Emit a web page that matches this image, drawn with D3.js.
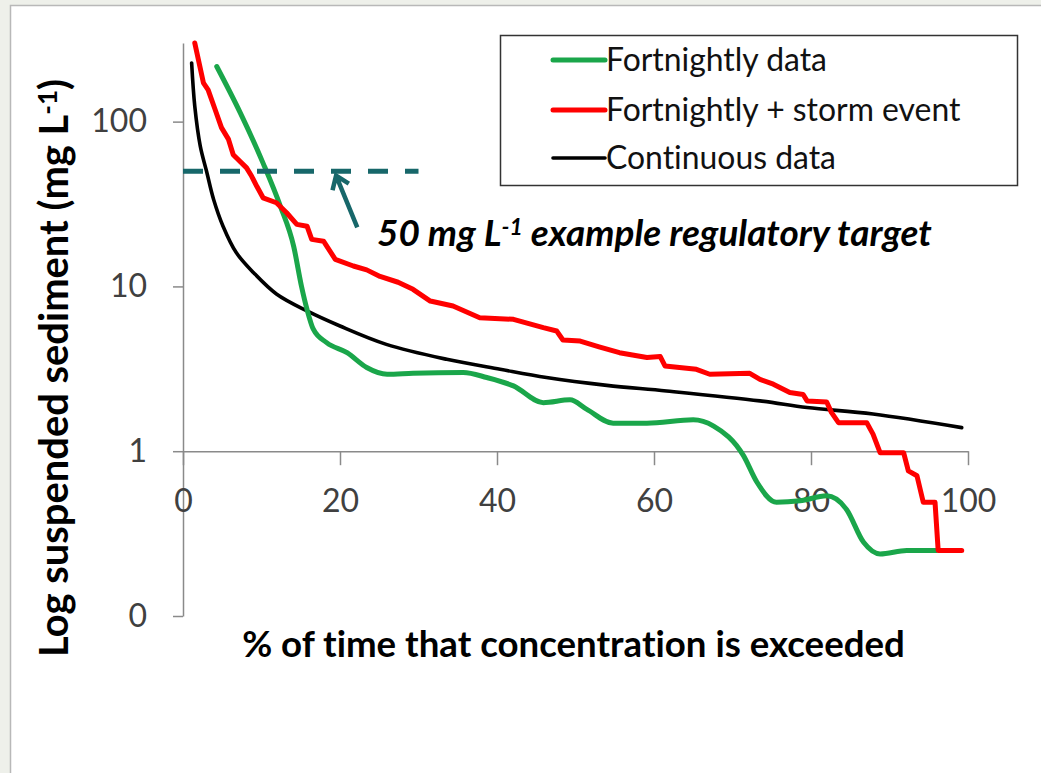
<!DOCTYPE html>
<html>
<head>
<meta charset="utf-8">
<script src="https://cdn.jsdelivr.net/npm/d3@7"></script>
<style>
  body{margin:0;background:#eef0ea;}
  svg{display:block;}
  text{font-variant-ligatures:none;}
</style>
</head>
<body>
<svg id="chart" width="1041" height="773"></svg>
<script>
/* ── data ── */
var xTicks=[0,20,40,60,80,100];
var yTicks=[0.1,1,10,100];
var yTickLabels=['0','1','10','100'];
var seriesNames=['Fortnightly data','Fortnightly + storm event','Continuous data'];

// fortnightly samples (smoothed line)
var fortX=[4.3,7.3,10.2,12.4,14.1,15.1,15.8,16.6,18.3,20.9,23.4,26.0,29.3,35.7,38.7,42.1,45.9,49.3,51.4,54.8,59.1,65.0,67.6,71.4,73.1,75.6,78.6,82.0,84.5,86.7,88.8,92.2,96.0];
var fortY=[216,113,56,30.7,17.5,10.0,7.25,5.5,4.56,3.96,3.22,2.93,2.97,3.0,2.8,2.49,1.97,2.05,1.8,1.48,1.48,1.55,1.42,0.94,0.65,0.49,0.5,0.536,0.445,0.28,0.238,0.25,0.25];

// fortnightly + storm event (stepped)
var stormX=[1.5,2.6,3.2,4.1,4.9,5.8,6.4,8.1,8.75,9.4,10.2,11.9,13.2,14.5,15.8,16.4,17.9,19.4,21.7,23.4,25.1,27.4,29.3,31.5,34.4,37.8,42.1,45.9,47.6,48.4,50.6,53.0,55.6,59.1,60.8,61.4,65.4,67.1,72.2,73.5,75.2,77.3,79.0,79.5,82.0,82.6,83.5,87.1,87.9,88.8,91.8,92.4,93.5,94.3,95.8,96.2,99.2];
var stormY=[300,172,156,118,92,78,63,52.4,46.6,40.5,34.5,32.2,28.0,23.8,23.2,19.3,18.8,14.6,13.3,12.6,11.5,10.6,9.6,8.15,7.6,6.46,6.31,5.62,5.36,4.73,4.66,4.3,3.96,3.70,3.75,3.29,3.14,2.93,2.97,2.73,2.55,2.27,2.21,2.02,1.99,1.72,1.49,1.49,1.27,0.98,0.98,0.76,0.71,0.49,0.49,0.25,0.25];

// continuous record
var contX=[1.1,1.5,2.2,3.0,3.9,5.1,6.8,9.0,11.9,15.8,20.0,25.9,33.6,40.4,46.3,54.0,61.6,73.5,79.5,87.9,99.2];
var contY=[227,124,71,50,33.7,23.2,16,12.1,9.0,7.1,5.75,4.45,3.61,3.14,2.8,2.51,2.32,2.02,1.84,1.68,1.39];

var targetValue=50, targetSpan=[0,30];
var arrowFrom=[22.2,22.8], arrowTo=[19.5,47];

/* ── setup ── */
var svg=d3.select('#chart');
var FONT='Lato, "Open Sans", sans-serif';

svg.append('rect').attr('x',10.5).attr('y',5.5).attr('width',1100).attr('height',900)
  .attr('fill','#fff').attr('stroke','#b8b8b8').attr('stroke-width',1.5);

var x=d3.scaleLinear().domain([0,100]).range([183,968]);
var y=d3.scaleLog().domain([0.1,300]).range([616,43]);

function fitWidth(sel,w){
  var cur=sel.node().getComputedTextLength();
  var fs=parseFloat(sel.attr('font-size'));
  sel.attr('font-size',(fs*w/cur).toFixed(2));
}

/* ── axes ── */
var yAx=svg.append('g').attr('transform','translate(183,0)')
  .call(d3.axisLeft(y).tickValues(yTicks).tickSize(10).tickSizeOuter(0).tickPadding(26)
    .tickFormat(function(d,i){return yTickLabels[i];}));
yAx.select('.domain').attr('stroke','#8a8a8a').attr('stroke-width',1.5);
yAx.selectAll('.tick line').attr('stroke','#8a8a8a').attr('stroke-width',1.5);
yAx.selectAll('.tick text').attr('font-family',FONT).attr('font-size',32).attr('fill','#404040');

var xAx=svg.append('g').attr('transform','translate(0,'+y(1)+')')
  .call(d3.axisBottom(x).tickValues(xTicks).tickSize(14).tickSizeOuter(0));
xAx.select('.domain').attr('stroke','#8a8a8a').attr('stroke-width',1.5);
xAx.selectAll('.tick line').attr('stroke','#8a8a8a').attr('stroke-width',1.5);
xAx.selectAll('.tick text').attr('font-family',FONT).attr('font-size',32).attr('fill','#404040')
  .attr('y',61).attr('dy',0);

/* ── axis titles ── */
var xt=svg.append('text').attr('x',(242+905)/2).attr('y',657).attr('text-anchor','middle')
  .attr('font-family',FONT).attr('font-weight','bold').attr('font-size',30).attr('fill','#000')
  .text('% of time that concentration is exceeded');
fitWidth(xt,663);

var yt=svg.append('text').attr('transform','translate(68,368) rotate(-90)').attr('text-anchor','middle')
  .attr('font-family',FONT).attr('font-weight','bold').attr('font-size',32).attr('fill','#000');
yt.append('tspan').text('Log suspended sediment (mg L');
yt.append('tspan').attr('dy',-11).attr('font-size','0.65em').text('-1');
yt.append('tspan').attr('dy',11).text(')');
fitWidth(yt,578);

/* ── series ── */
function pts(xs,ys){return xs.map(function(v,i){return [v,ys[i]];});}
var lineSmooth=d3.line().x(function(d){return x(d[0]);}).y(function(d){return y(d[1]);}).curve(d3.curveMonotoneX);
var lineCont=d3.line().x(function(d){return x(d[0]);}).y(function(d){return y(d[1]);}).curve(d3.curveCatmullRom.alpha(0.5));
var lineStep=d3.line().x(function(d){return x(d[0]);}).y(function(d){return y(d[1]);});

svg.append('path').attr('d',lineCont(pts(contX,contY))).attr('fill','none')
  .attr('stroke','#000').attr('stroke-width',3.6).attr('stroke-linecap','round');
svg.append('path').attr('d',lineSmooth(pts(fortX,fortY))).attr('fill','none')
  .attr('stroke','#1aa64a').attr('stroke-width',5).attr('stroke-linecap','round');
svg.append('path').attr('d',lineStep(pts(stormX,stormY))).attr('fill','none')
  .attr('stroke','#ff0000').attr('stroke-width',5).attr('stroke-linejoin','round').attr('stroke-linecap','round');

/* ── regulatory target ── */
var TEAL='#17676a';
svg.append('line').attr('x1',x(targetSpan[0])).attr('x2',x(targetSpan[1]))
  .attr('y1',y(targetValue)).attr('y2',y(targetValue))
  .attr('stroke',TEAL).attr('stroke-width',5).attr('stroke-dasharray','20,17');

var ax0=x(arrowFrom[0]), ay0=y(arrowFrom[1]), ax1=x(arrowTo[0]), ay1=y(arrowTo[1]);
var ang=Math.atan2(ay1-ay0,ax1-ax0), hl=15, ha=Math.PI/5;
svg.append('path')
  .attr('d','M'+ax0+','+ay0+'L'+ax1+','+ay1+
    'M'+(ax1-hl*Math.cos(ang-ha))+','+(ay1-hl*Math.sin(ang-ha))+'L'+ax1+','+ay1+
    'L'+(ax1-hl*Math.cos(ang+ha))+','+(ay1-hl*Math.sin(ang+ha)))
  .attr('fill','none').attr('stroke',TEAL).attr('stroke-width',4.5).attr('stroke-linejoin','miter');

var ann=svg.append('text').attr('x',377).attr('y',246)
  .attr('font-family',FONT).attr('font-weight','bold').attr('font-style','italic')
  .attr('font-size',30).attr('fill','#000');
ann.append('tspan').text('50 mg L');
ann.append('tspan').attr('dy',-11).attr('font-size','0.62em').text('-1');
ann.append('tspan').attr('dy',11).text(' example regulatory target');
fitWidth(ann,555);

/* ── legend ── */
var legColors=['#1aa64a','#ff0000','#000'];
var legWidths=[5,5,3.6];
var leg=svg.append('g');
leg.append('rect').attr('x',500.5).attr('y',35.5).attr('width',517).attr('height',150)
  .attr('fill','#fff').attr('stroke','#333').attr('stroke-width',1.5);
var legY=[60,110,158];
seriesNames.forEach(function(n,i){
  leg.append('line').attr('x1',553).attr('x2',605).attr('y1',legY[i]).attr('y2',legY[i])
    .attr('stroke',legColors[i]).attr('stroke-width',legWidths[i]).attr('stroke-linecap','round');
  var t=leg.append('text').attr('x',606).attr('y',legY[i]).attr('dy','0.36em')
    .attr('font-family',FONT).attr('font-size',27).attr('fill','#111').text(n);
  if(i===0) fitWidth(t,221);
});
var legFs=leg.select('text').attr('font-size');
leg.selectAll('text').attr('font-size',legFs);
</script>
</body>
</html>
